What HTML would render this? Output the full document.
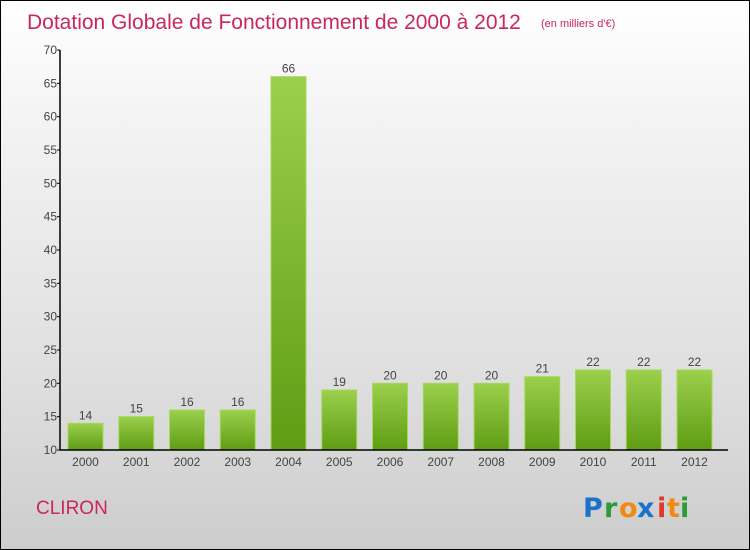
<!DOCTYPE html>
<html><head><meta charset="utf-8"><style>
body{margin:0}
#c{width:750px;height:550px;position:relative;box-sizing:border-box;border:1px solid #000;background:linear-gradient(#fff,#f4f4f4 20%,#dedede 70%,#cdcdcd);font-family:"Liberation Sans",sans-serif;overflow:hidden}
</style></head><body>
<div id="c">
<svg width="750" height="550" style="position:absolute;left:-1px;top:-1px">
<defs><linearGradient id="g" x1="0" y1="0" x2="0" y2="1"><stop offset="0" stop-color="#9bd04c"/><stop offset="1" stop-color="#5f9c14"/></linearGradient></defs>
<text x="27" y="29" font-size="21" fill="#c8285a" style="font-weight:300">Dotation Globale de Fonctionnement de 2000 à 2012</text>
<text x="541" y="27" font-size="11" fill="#c8285a">(en milliers d'€)</text>
<g id="plot"></g>
<text x="36" y="514" font-size="19" fill="#c8285a">CLIRON</text>
<g font-size="27" font-family="'DejaVu Sans',sans-serif" font-weight="bold">
<text x="583" y="517" fill="#1a73c9">P</text><text x="604" y="517" fill="#2f9a3a">r</text><text x="619" y="517" fill="#f28a12">o</text><text x="637" y="517" fill="#1a73c9">x</text><text x="657" y="517" fill="#e5342a">i</text><text x="667" y="517" fill="#f28a12">t</text><text x="680" y="517" fill="#2f9a3a">i</text>
</g>
</svg>
</div>
<script>
const categories=["2000","2001","2002","2003","2004","2005","2006","2007","2008","2009","2010","2011","2012"];
const values=[14,15,16,16,66,19,20,20,20,21,22,22,22];
const yTicks=[10,15,20,25,30,35,40,45,50,55,60,65,70];
const ns="http://www.w3.org/2000/svg";
const g=document.getElementById('plot');
const x0=60,yMin=10,yMax=70,yTop=50,yBot=450,step=50.75,bw=35;
const y=v=>yBot-(v-yMin)/(yMax-yMin)*(yBot-yTop);
const xc=i=>x0+25.5+i*step;
function mk(t,a){const e=document.createElementNS(ns,t);for(const k in a)e.setAttribute(k,a[k]);g.appendChild(e);return e;}
values.forEach((v,i)=>{
 const r=mk('rect',{x:xc(i)-bw/2,y:y(v),width:bw,height:yBot-y(v),fill:'url(#g)',stroke:'#a6d95c','stroke-width':1});
 
 
 const t=mk('text',{x:xc(i),y:y(v)-4,'font-size':12,fill:'#444','text-anchor':'middle'});t.textContent=v;
 
 
 const c=mk('text',{x:xc(i),y:yBot+16,'font-size':12,fill:'#444','text-anchor':'middle'});c.textContent=categories[i];
 
 
});
yTicks.forEach(v=>{
 const l=mk('line',{x1:x0-3,x2:x0,y1:y(v),y2:y(v),stroke:'#000'});
 
 
 const t=mk('text',{x:x0-3,y:y(v)+4,'font-size':12,fill:'#444','text-anchor':'end'});t.textContent=v;
 
 
});
const ya=mk('line',{x1:x0,x2:x0,y1:yTop,y2:yBot,stroke:'#000','stroke-width':1.5});


const xa=mk('line',{x1:x0,x2:728,y1:yBot,y2:yBot,stroke:'#000','stroke-width':1.5});


</script>
</body></html>
